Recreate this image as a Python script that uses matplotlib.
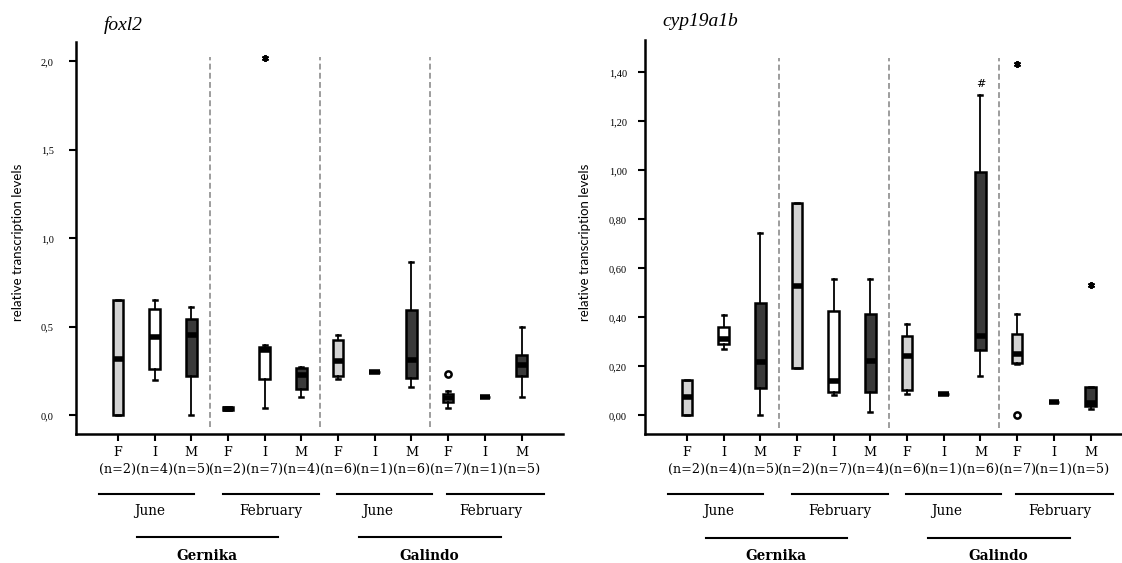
import numpy as np
import matplotlib
matplotlib.use("Agg")
import matplotlib.pyplot as plt
import matplotlib.transforms as mtransforms

# ---------------------------------------------------------------------------
# data
# ---------------------------------------------------------------------------
positions = list(range(1, 13))
sex_labels = ["F", "I", "M"] * 4
n_fish = [2, 4, 5, 2, 7, 4, 6, 1, 6, 7, 1, 5]
box_colors = ["#d3d3d3", "#ffffff", "#3a3a3a"] * 4
seasons = ["June", "February", "June", "February"]
sites = ["Gernika", "Galindo"]

foxl2_lo  = [0.000, 0.198, 0.000, 0.028, 0.044, 0.102, 0.207, 0.244, 0.159, 0.044, 0.102, 0.104]
foxl2_q1  = [0.000, 0.263, 0.222, 0.028, 0.207, 0.148, 0.222, 0.244, 0.213, 0.074, 0.102, 0.222]
foxl2_med = [0.320, 0.444, 0.452, 0.037, 0.372, 0.228, 0.306, 0.244, 0.313, 0.100, 0.102, 0.287]
foxl2_q3  = [0.652, 0.604, 0.546, 0.045, 0.389, 0.267, 0.424, 0.244, 0.594, 0.120, 0.102, 0.339]
foxl2_hi  = [0.652, 0.652, 0.615, 0.045, 0.398, 0.274, 0.454, 0.244, 0.866, 0.139, 0.102, 0.500]
foxl2_out_x, foxl2_out_y = [10], [0.233]          # open circles
foxl2_ext_x, foxl2_ext_y = [5], [2.017]           # asterisks

cyp_lo  = [0.000, 0.269, 0.000, 0.193, 0.082, 0.014, 0.089, 0.089, 0.159, 0.208, 0.055, 0.024]
cyp_q1  = [0.000, 0.292, 0.111, 0.193, 0.096, 0.095, 0.103, 0.089, 0.268, 0.214, 0.055, 0.039]
cyp_med = [0.076, 0.312, 0.216, 0.526, 0.139, 0.223, 0.241, 0.089, 0.324, 0.250, 0.055, 0.050]
cyp_q3  = [0.146, 0.359, 0.457, 0.866, 0.428, 0.415, 0.326, 0.089, 0.993, 0.332, 0.055, 0.114]
cyp_hi  = [0.146, 0.408, 0.746, 0.866, 0.556, 0.556, 0.373, 0.089, 1.306, 0.414, 0.055, 0.114]
cyp_out_x, cyp_out_y = [10], [0.000]
cyp_ext_x, cyp_ext_y = [10, 12], [1.436, 0.532]
cyp_hash_x, cyp_hash_y = 9, 1.354

foxl2_ticks = [0.0, 0.5, 1.0, 1.5, 2.0]
foxl2_ticklabels = ["0,0", "0,5", "1,0", "1,5", "2,0"]
cyp_ticks = [0.0, 0.2, 0.4, 0.6, 0.8, 1.0, 1.2, 1.4]
cyp_ticklabels = ["0,00", "0,20", "0,40", "0,60", "0,80", "1,00", "1,20", "1,40"]

W, H = 1122, 563
SERIF = "DejaVu Serif"


def px_axes(x0, y0, x1, y1):
    # pixel box (top-left origin) -> figure fraction rect
    return [x0 / W, (H - y1) / H, (x1 - x0) / W, (y1 - y0) / H]


def draw_panel(ax, lo, q1, med, q3, hi, ylim, dash_y, ticks, ticklabels, tick_pad):
    stats = [dict(whislo=a, q1=b, med=c, q3=d, whishi=e, fliers=[])
             for a, b, c, d, e in zip(lo, q1, med, q3, hi)]
    bp = ax.bxp(stats, positions=positions, widths=0.29, patch_artist=True,
                showfliers=False, capwidths=0.11,
                boxprops=dict(linewidth=1.8, edgecolor="black"),
                medianprops=dict(color="black", linewidth=4, solid_capstyle="butt"),
                whiskerprops=dict(color="black", linewidth=1.3),
                capprops=dict(color="black", linewidth=1.8))
    for patch, col in zip(bp["boxes"], box_colors):
        patch.set_facecolor(col)
    ax.vlines([3.5, 6.5, 9.5], dash_y[0], dash_y[1], colors="#8c8c8c",
              linestyles=(0, (3.5, 2)), linewidth=1.2, zorder=0)

    ax.set_xlim(-0.144, 13.13)
    ax.set_ylim(*ylim)
    for s in ["top", "right"]:
        ax.spines[s].set_visible(False)
    for s in ["left", "bottom"]:
        ax.spines[s].set_linewidth(1.8)
    ax.set_yticks(ticks)
    ax.set_yticklabels(ticklabels, fontsize=7.5, family="Liberation Serif")
    ax.tick_params(axis="y", length=5, width=1.5, pad=tick_pad)
    ax.set_xticks(positions)
    ax.set_xticklabels([f"{s}\n(n={n})" for s, n in zip(sex_labels, n_fish)],
                       fontsize=9.2, family=SERIF, linespacing=1.35)
    ax.tick_params(axis="x", length=5, width=1.5, pad=4)

    tr = mtransforms.blended_transform_factory(ax.transData, ax.transAxes)
    season_spans = [(0.47, 3.07), (3.85, 6.47), (6.97, 9.57), (9.98, 12.6)]
    season_mid = [1.87, 5.17, 8.08, 11.15]
    for (a, b), m, name in zip(season_spans, season_mid, seasons):
        ax.plot([a, b], [-0.153, -0.153], color="black", lw=1.5,
                transform=tr, clip_on=False)
        ax.text(m, -0.196, name, transform=tr, ha="center", va="center",
                fontsize=9.8, family=SERIF)
    site_spans = [(1.53, 5.37), (7.57, 11.43)]
    site_mid = [3.43, 9.48]
    for (a, b), m, name in zip(site_spans, site_mid, sites):
        ax.plot([a, b], [-0.263, -0.263], color="black", lw=1.5,
                transform=tr, clip_on=False)
        ax.text(m, -0.31, name, transform=tr, ha="center", va="center",
                fontsize=9.8, family=SERIF, fontweight="bold")


fig = plt.figure(figsize=(W / 100, H / 100), dpi=100)

ax1 = fig.add_axes(px_axes(76, 42, 563, 434))
draw_panel(ax1, foxl2_lo, foxl2_q1, foxl2_med, foxl2_q3, foxl2_hi,
           (-0.105, 2.11), (-0.068, 2.025), foxl2_ticks, foxl2_ticklabels, 11)
ax1.plot(foxl2_out_x, foxl2_out_y, "o", ms=4.5, mfc="white", mec="black", mew=1.8)
ax1.plot(foxl2_ext_x, foxl2_ext_y, ls="none", marker=(6, 2, 0), ms=5, mec="black", mew=1.4)
fig.text(18 / W, 1 - 242 / H, "relative transcription levels", rotation=90,
         ha="center", va="center", fontsize=9.5, family="Lato")
fig.text(104 / W, 1 - 25 / H, "foxl2", fontsize=14, style="italic",
         family="Liberation Serif", ha="left", va="center")

ax2 = fig.add_axes(px_axes(645, 40, 1132, 434))
draw_panel(ax2, cyp_lo, cyp_q1, cyp_med, cyp_q3, cyp_hi,
           (-0.076, 1.532), (-0.052, 1.458), cyp_ticks, cyp_ticklabels, 8)
ax2.plot(cyp_out_x, cyp_out_y, "o", ms=4.5, mfc="white", mec="black", mew=1.8)
ax2.plot(cyp_ext_x, cyp_ext_y, ls="none", marker=(6, 2, 0), ms=5, mec="black", mew=1.4)
ax2.text(cyp_hash_x, cyp_hash_y, "#", ha="center", va="center", fontsize=8, family=SERIF)
fig.text(585 / W, 1 - 242 / H, "relative transcription levels", rotation=90,
         ha="center", va="center", fontsize=9.5, family="Lato")
fig.text(662 / W, 1 - 22 / H, "cyp19a1b", fontsize=14, style="italic",
         family="Liberation Serif", ha="left", va="center")

fig.savefig("out.png", dpi=100)
